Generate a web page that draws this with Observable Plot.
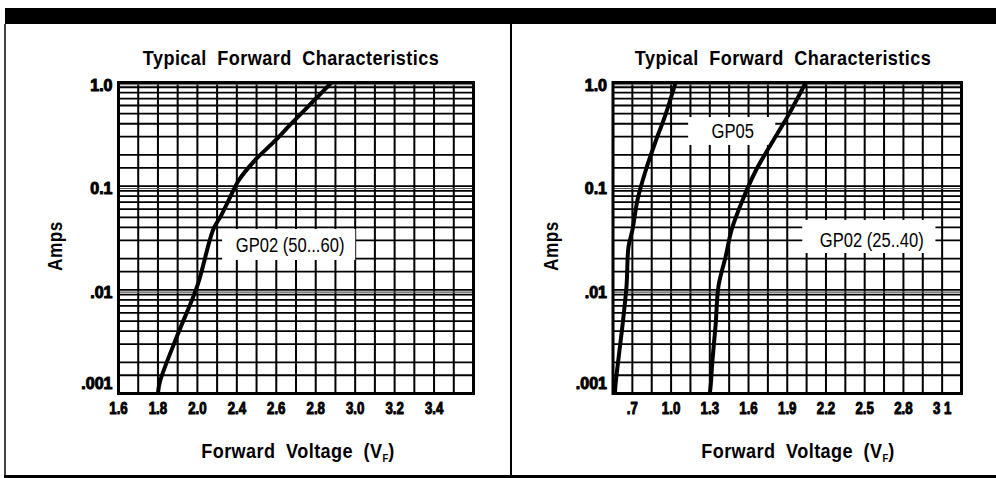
<!DOCTYPE html>
<html><head><meta charset="utf-8">
<script src="https://cdn.jsdelivr.net/npm/d3@7"></script>
<script src="https://cdn.jsdelivr.net/npm/@observablehq/plot@0.6"></script>
<style>
body{margin:0;background:#fff;}
#wrap{position:relative;width:996px;height:478px;overflow:hidden;background:#fff;font-family:"Liberation Sans",Arial,sans-serif;color:#000;}
.lbl{position:absolute;font-weight:bold;font-size:21px;line-height:21px;white-space:nowrap;letter-spacing:0.5px;word-spacing:6px;transform:translateX(-50%) scaleX(0.86);}
.amps{position:absolute;font-weight:bold;font-size:20px;line-height:20px;white-space:nowrap;letter-spacing:0.6px;transform:translate(-50%,-50%) rotate(-90deg) scaleX(0.86);}
.lbl sub{font-size:11px;vertical-align:-4px;line-height:0;letter-spacing:0;}
.panel{position:absolute;top:0;}
.bar{position:absolute;background:#000;}
</style></head>
<body><div id="wrap"></div>
<script>
// ---------- data ----------
const panelTitle = "Typical Forward Characteristics";
const yAxisTitle = "Amps";
const xAxisTitle = "Forward Voltage (V";
const xAxisSub = "F";

const yTickValues = [1, 0.1, 0.01, 0.001];
const yTickLabels = ["1.0", "0.1", ".01", ".001"];
const gridMultipliers = [1, 1.5, 2, 3, 4, 5, 6, 7, 8, 9, 9.5];
const gridDecades = [0.001, 0.01, 0.1];

// left chart (grid positions, labels as printed)
const leftTickValues = [1.6, 1.8, 2.0, 2.2, 2.4, 2.6, 2.8, 3.0, 3.2];
const leftTickLabels = ["1.6", "1.8", "2.0", "2.4", "2.6", "2.8", "3.0", "3.2", "3.4"];
const gp02aName = "GP02 (50...60)";
const gp02aV = [1.80, 1.81, 1.90, 2.00, 2.08, 2.12, 2.16, 2.21, 2.29, 2.39, 2.47, 2.57, 2.68];
const gp02aA = [0.001, 0.0013, 0.0037, 0.011, 0.038, 0.052, 0.074, 0.114, 0.176, 0.27, 0.39, 0.61, 1.0];

// right chart
const rightTickValues = [0.7, 1.0, 1.3, 1.6, 1.9, 2.2, 2.5, 2.8, 3.1];
const rightTickLabels = [".7", "1.0", "1.3", "1.6", "1.9", "2.2", "2.5", "2.8", "3 1"];
const gp05Name = "GP05";
const gp05V = [0.565, 0.569, 0.593, 0.624, 0.655, 0.670, 0.701, 0.740, 0.802, 0.880, 0.957, 1.035];
const gp05A = [0.001, 0.0012, 0.0022, 0.0046, 0.011, 0.026, 0.038, 0.074, 0.14, 0.27, 0.49, 1.0];
const gp02bName = "GP02 (25..40)";
const gp02bV = [1.30, 1.307, 1.322, 1.345, 1.368, 1.423, 1.469, 1.555, 1.655, 1.787, 1.911, 2.043];
const gp02bA = [0.001, 0.0012, 0.0022, 0.0046, 0.011, 0.021, 0.038, 0.074, 0.14, 0.27, 0.49, 1.0];

// label anchors (volts / amps)
const leftLabels = [{name: gp02aName, v: 2.47, a: 0.0268, v1: 2.128, v2: 2.803, a1: 0.0382, a2: 0.0192}];
const rightLabels = [
  {name: gp05Name, v: 1.477, a: 0.337, v1: 1.136, v2: 1.811, a1: 0.459, a2: 0.247},
  {name: gp02bName, v: 2.555, a: 0.0299, v1: 2.02, v2: 3.052, a1: 0.0467, a2: 0.0224}
];

// ---------- build ----------
const FONT = '"Liberation Sans",Arial,sans-serif';
const hGrid = [1, ...gridDecades.flatMap(d => gridMultipliers.map(m => m * d))];
const series = (name, V, A) => V.map((v, i) => ({s: name, v, a: A[i]}));

function panel({width, marginLeft, marginRight, domain, step, tickValues, tickLabels, curves, labels}) {
  const n = Math.round((domain[1] - domain[0]) / step);
  const vGrid = d3.range(n + 1).map(i => domain[0] + i * step);
  const thin = hGrid.filter((d, i) => i > 0 && (i % gridMultipliers.length) === 0);
  const heavy = {fontWeight: "bold", fontFamily: FONT, fill: "black", stroke: "black"};
  return Plot.plot({
    width, height: 478,
    marginLeft, marginRight, marginTop: 82, marginBottom: 85,
    style: {background: "transparent", overflow: "visible"},
    x: {domain, axis: null},
    y: {type: "log", domain: [0.001, 1], axis: null},
    marks: [
      Plot.ruleX(vGrid, {stroke: "black", strokeWidth: 2}),
      Plot.ruleY(hGrid.filter(d => !thin.includes(d)), {stroke: "black", strokeWidth: 1.8}),
      Plot.ruleY(thin, {stroke: "#555", strokeWidth: 1.1}),
      Plot.rect(labels, {x1: "v1", x2: "v2", y1: "a1", y2: "a2", fill: "white"}),
      Plot.line(curves, {x: "v", y: "a", z: "s", stroke: "black", strokeWidth: 4, curve: "catmull-rom", clip: true}),
      Plot.text(labels, {x: "v", y: "a", text: "name", fontSize: 19.5, fontFamily: FONT, fill: "black", ariaLabel: "series-label"}),
      Plot.frame({stroke: "black", strokeWidth: 3}),
      Plot.text(tickValues, {x: d => d, frameAnchor: "bottom", dy: 20, text: (d, i) => tickLabels[i],
        fontSize: 17, strokeWidth: 1, ...heavy, ariaLabel: "x-tick"}),
      Plot.text(yTickValues.slice(0, 3), {y: d => d, frameAnchor: "left", dx: -6, dy: 3, textAnchor: "end",
        text: (d, i) => yTickLabels[i], fontSize: 16, strokeWidth: 1, ...heavy, ariaLabel: "y-tick"}),
      Plot.text(yTickValues.slice(3), {y: d => d, frameAnchor: "left", dx: -6, dy: -10, textAnchor: "end",
        text: (d, i) => yTickLabels[3 + i], fontSize: 16, strokeWidth: 1, ...heavy, ariaLabel: "y-tick"})
    ]
  });
}

const wrap = document.getElementById("wrap");
// narrow the glyphs horizontally around each text's own centre
function squeeze(svg, label, fontSize, factor) {
  const groups = Array.from(svg.querySelectorAll("g")).filter(g =>
    g.getAttribute("aria-label") === label || g.getAttribute("font-size") === String(fontSize));
  groups.forEach(g => g.querySelectorAll("text").forEach(t => {
    const bb = t.getBBox();
    const cx = bb.x + bb.width / 2;
    const prev = t.getAttribute("transform") || "";
    t.setAttribute("transform", `${prev} translate(${cx},0) scale(${factor},1) translate(${-cx},0)`);
  }));
}
function addPanel(svg, left) {
  svg.classList.add("panel");
  svg.style.left = left + "px";
  wrap.appendChild(svg);
  squeeze(svg, "x-tick", 17, 0.78);
  squeeze(svg, "series-label", 19.5, 0.85);
}
addPanel(panel({
  width: 511, marginLeft: 118, marginRight: 38, domain: [1.6, 3.4], step: 0.1,
  tickValues: leftTickValues, tickLabels: leftTickLabels,
  curves: series(gp02aName, gp02aV, gp02aA), labels: leftLabels
}), 0);
addPanel(panel({
  width: 485, marginLeft: 101.5, marginRight: 35, domain: [0.55, 3.25], step: 0.15,
  tickValues: rightTickValues, tickLabels: rightTickLabels,
  curves: [...series(gp05Name, gp05V, gp05A), ...series(gp02bName, gp02bV, gp02bA)], labels: rightLabels
}), 511);

function addDiv(cls, html, css) {
  const d = document.createElement("div");
  d.className = cls; d.innerHTML = html; Object.assign(d.style, css); wrap.appendChild(d); return d;
}
// frame decorations
addDiv("bar", "", {left: "5px", top: "8px", width: "991px", height: "16px"});
addDiv("bar", "", {left: "4px", top: "24px", width: "1.5px", height: "452px", background: "#444"});
addDiv("bar", "", {left: "510px", top: "24px", width: "2px", height: "452px"});
addDiv("bar", "", {left: "4px", top: "475px", width: "992px", height: "3px"});
// titles and axis titles
[[291, 55, 298], [783, 551, 798]].forEach(([tx, ax, fx]) => {
  addDiv("lbl", panelTitle, {left: tx + "px", top: "47px"});
  addDiv("amps", yAxisTitle, {left: ax + "px", top: "246px"});
  addDiv("lbl", xAxisTitle + "<sub>" + xAxisSub + "</sub>)", {left: fx + "px", top: "440px"});
});
</script></body></html>
